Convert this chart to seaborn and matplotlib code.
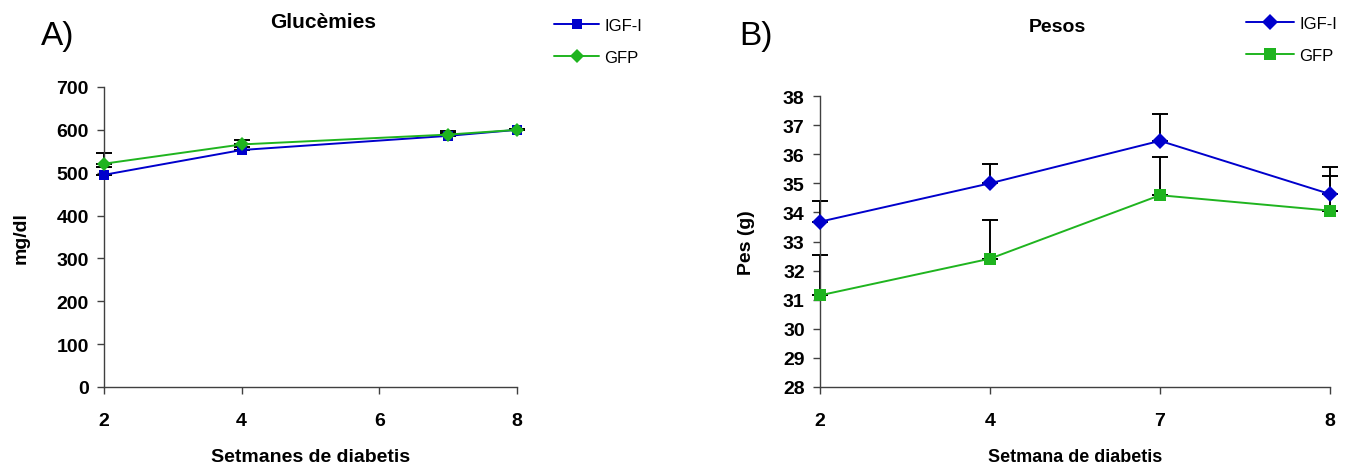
import matplotlib
matplotlib.use("Agg")
import matplotlib.pyplot as plt
import seaborn as sns
import pandas as pd
import numpy as np
from matplotlib.lines import Line2D

sns.set_theme(style="white")
plt.rcParams['font.family'] = ['Liberation Sans', 'DejaVu Sans']
plt.rcParams['text.color'] = 'black'
plt.rcParams['axes.labelcolor'] = 'black'
plt.rcParams['xtick.color'] = 'black'
plt.rcParams['ytick.color'] = 'black'

# ---- data ----
groups = ["IGF-I", "GFP"]
weeks_a = [2, 4, 7, 8]
gluc_igf = [495, 553, 586, 600]
gluc_gfp = [521, 566, 589, 600]
gluc_igf_err = [18, 8, 7, 3]
gluc_gfp_err = [24, 10, 8, 2]

weeks_b = ["2", "4", "7", "8"]
pes_igf = [33.68, 35.0, 36.46, 34.63]
pes_gfp = [31.15, 32.41, 34.59, 34.06]
pes_igf_err = [0.71, 0.67, 0.91, 0.92]
pes_gfp_err = [1.38, 1.33, 1.32, 1.18]

xticks_a = [2, 4, 6, 8]
yticks_a = [0, 100, 200, 300, 400, 500, 600, 700]
yticks_b = list(range(28, 39))

BLUE = "#0000CC"
GREEN = "#1FB41F"
AXC = "#404040"

W, H = 1355, 464
fig = plt.figure(figsize=(W / 100, H / 100), dpi=100)
axA = fig.add_axes([104 / W, 1 - 388 / H, (517 - 104) / W, (388 - 88) / H])
axB = fig.add_axes([820 / W, 1 - 388 / H, (1330 - 820) / W, (388 - 97) / H])

dfA = pd.DataFrame({
    "week": weeks_a * 2,
    "value": gluc_igf + gluc_gfp,
    "group": [groups[0]] * 4 + [groups[1]] * 4,
})
dfB = pd.DataFrame({
    "week": weeks_b * 2,
    "value": pes_igf + pes_gfp,
    "group": [groups[0]] * 4 + [groups[1]] * 4,
})

pal = {"IGF-I": BLUE, "GFP": GREEN}

# error bars (upper only)
for ax, x, ys, errs in [
    (axA, weeks_a, [gluc_igf, gluc_gfp], [gluc_igf_err, gluc_gfp_err]),
    (axB, weeks_b, [pes_igf, pes_gfp], [pes_igf_err, pes_gfp_err]),
]:
    for y, e in zip(ys, errs):
        ax.errorbar(x, y, yerr=[np.zeros(len(e)), e], fmt="none", ecolor="black",
                    elinewidth=1.4, capsize=5.5, capthick=1.4, zorder=1)

sns.lineplot(data=dfA, x="week", y="value", hue="group", style="group",
             palette=pal, markers={"IGF-I": "s", "GFP": "D"}, dashes=False,
             markersize=6.5, markeredgewidth=0, linewidth=1.4, ax=axA,
             legend=False, errorbar=None, zorder=3)
sns.lineplot(data=dfB, x="week", y="value", hue="group", style="group",
             palette=pal, markers={"IGF-I": "D", "GFP": "s"}, dashes=False,
             markersize=8, markeredgewidth=0, linewidth=1.4, ax=axB,
             legend=False, errorbar=None, zorder=3)

# diamonds slightly larger in panel A
for ln in axA.lines:
    if ln.get_marker() == "D":
        ln.set_markersize(7.2)

tick_font = dict(fontsize=14, fontweight="bold")
for ax in (axA, axB):
    for art in list(ax.lines) + list(ax.collections):
        art.set_clip_on(False)
    for s in ("top", "right"):
        ax.spines[s].set_visible(False)
    for s in ("left", "bottom"):
        ax.spines[s].set_color(AXC)
        ax.spines[s].set_linewidth(1.0)
    ax.tick_params(axis="both", direction="out", length=5, width=1.0,
                   color=AXC, labelsize=14, bottom=True, left=True)
    ax.tick_params(axis="y", pad=6)
    ax.tick_params(axis="x", pad=13)
    ax.grid(False)

axA.set_xlim(2, 8)
axA.set_ylim(0, 700)
axA.set_xticks(xticks_a)
axA.set_yticks(yticks_a)
axA.set_xticklabels([str(t) for t in xticks_a], **tick_font)
axA.set_yticklabels([str(t) for t in yticks_a], **tick_font)
axA.set_xlabel("Setmanes de diabetis", fontsize=14, fontweight="bold", labelpad=14)
axA.set_ylabel("mg/dl", fontsize=14, fontweight="bold", labelpad=19)

axB.set_xlim(0, 3)
axB.set_ylim(28, 38)
axB.set_yticks(yticks_b)
axB.set_yticklabels([str(t) for t in yticks_b], **tick_font)
axB.set_xticks(range(len(weeks_b)))
axB.set_xticklabels(weeks_b, **tick_font)
axB.set_xlabel("Setmana de diabetis", fontsize=13, fontweight="bold", labelpad=14)
axB.set_ylabel("Pes (g)", fontsize=14, fontweight="bold", labelpad=20)

fig.text(323 / W, 1 - 23 / H, "Glucèmies", ha="center", va="center",
         fontsize=15, fontweight="bold")
fig.text(1057 / W, 1 - 28 / H, "Pesos", ha="center", va="center",
         fontsize=14, fontweight="bold")
fig.text(41 / W, 1 - 37 / H, "A)", ha="left", va="center", fontsize=24)
fig.text(739 / W, 1 - 37 / H, "B)", ha="left", va="center", fontsize=24)

# legends
hA = [Line2D([], [], color=BLUE, marker="s", markersize=6.5, markeredgewidth=0, lw=1.4),
      Line2D([], [], color=GREEN, marker="D", markersize=7.2, markeredgewidth=0, lw=1.4)]
hB = [Line2D([], [], color=BLUE, marker="D", markersize=8, markeredgewidth=0, lw=1.4),
      Line2D([], [], color=GREEN, marker="s", markersize=8, markeredgewidth=0, lw=1.4)]
fig.legend(hA, groups, loc="upper left", bbox_to_anchor=(554 / W, 1 - 19 / H),
           frameon=False, fontsize=12, handlelength=2.7, handletextpad=0.3,
           labelspacing=1.0, borderpad=0, borderaxespad=0)
fig.legend(hB, groups, loc="upper left", bbox_to_anchor=(1246 / W, 1 - 17 / H),
           frameon=False, fontsize=12, handlelength=2.9, handletextpad=0.3,
           labelspacing=1.0, borderpad=0, borderaxespad=0)

fig.savefig("out.png", dpi=100)
